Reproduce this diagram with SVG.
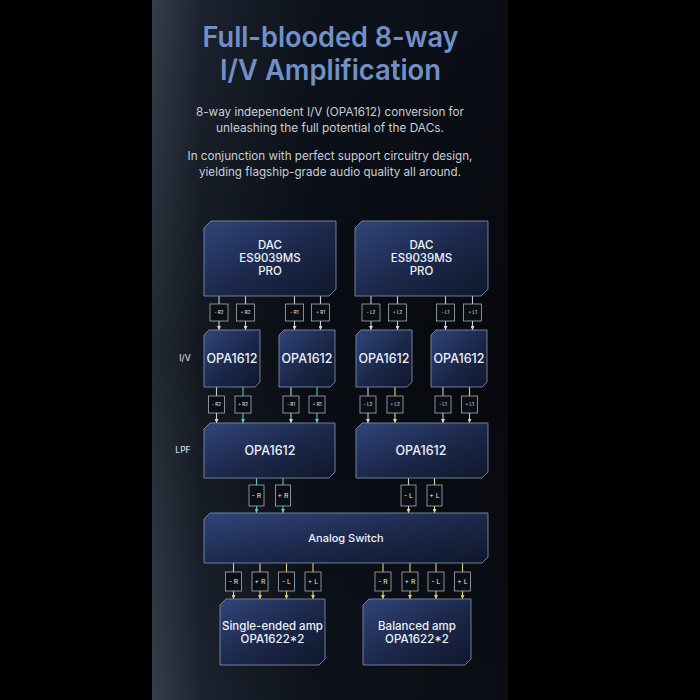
<svg xmlns="http://www.w3.org/2000/svg" width="700" height="700" viewBox="0 0 700 700">
<defs>
  <linearGradient id="panel" x1="0" y1="0" x2="1" y2="0">
    <stop offset="0" stop-color="#353e4c"/>
    <stop offset="0.14" stop-color="#1c232f"/>
    <stop offset="0.45" stop-color="#0d121b"/>
    <stop offset="1" stop-color="#0a0d14"/>
  </linearGradient>
  <linearGradient id="panelV" x1="0" y1="0" x2="0" y2="1">
    <stop offset="0" stop-color="#000" stop-opacity="0"/>
    <stop offset="0.5" stop-color="#000" stop-opacity="0.35"/>
    <stop offset="1" stop-color="#000" stop-opacity="0"/>
  </linearGradient>
  <linearGradient id="box" x1="0" y1="0" x2="1" y2="1">
    <stop offset="0" stop-color="#30457a"/>
    <stop offset="0.55" stop-color="#1b2749"/>
    <stop offset="1" stop-color="#10172b"/>
  </linearGradient>
  <marker id="aw" viewBox="0 0 6 6" refX="6" refY="3" markerWidth="4" markerHeight="4" orient="auto" markerUnits="userSpaceOnUse">
    <path d="M0,0 L6,3 L0,6 Z" fill="#d4dae2"/>
  </marker>
  <marker id="at" viewBox="0 0 6 6" refX="6" refY="3" markerWidth="4" markerHeight="4" orient="auto" markerUnits="userSpaceOnUse">
    <path d="M0,0 L6,3 L0,6 Z" fill="#5ec4cc"/>
  </marker>
  <marker id="ay" viewBox="0 0 6 6" refX="6" refY="3" markerWidth="4" markerHeight="4" orient="auto" markerUnits="userSpaceOnUse">
    <path d="M0,0 L6,3 L0,6 Z" fill="#e2cf6a"/>
  </marker>
  <marker id="ap" viewBox="0 0 6 6" refX="6" refY="3" markerWidth="4" markerHeight="4" orient="auto" markerUnits="userSpaceOnUse">
    <path d="M0,0 L6,3 L0,6 Z" fill="#d8dc98"/>
  </marker>
  <style>
    .title{font-family:Inter,"Open Sans",sans-serif;font-weight:600;font-size:28px;fill:#7190c8;text-anchor:middle}
    .sub{font-family:Inter,"Open Sans",sans-serif;font-weight:400;font-size:11.5px;fill:#c9ced6;text-anchor:middle}
    .node path{fill:url(#box);stroke:#7c8aa8;stroke-width:0.9}
    .nt{font-family:Inter,"Open Sans",sans-serif;font-weight:500;fill:#eef1f7;text-anchor:middle}
    .side{font-family:Inter,"Open Sans",sans-serif;font-weight:500;font-size:8.5px;fill:#d6dae2;text-anchor:middle}
    .lb rect{fill:#0b0e14;stroke:#a8aeb6;stroke-width:0.8}
    .lb text{font-family:Inter,"Open Sans",sans-serif;fill:#e4e8ee;text-anchor:middle}
    .s text{font-size:4.6px}
    .m text{font-size:6.8px}
    .w{stroke:#c4ccd6;stroke-width:1.1;fill:none}
    .t{stroke:#5ec4cc;stroke-width:1.1;fill:none}
    .y{stroke:#e2cf6a;stroke-width:1.1;fill:none}
    .p{stroke:#d8dc98;stroke-width:1.1;fill:none}
  </style>
</defs>

<rect x="0" y="0" width="700" height="700" fill="#000"/>
<rect x="152" y="0" width="356" height="700" fill="url(#panel)"/>
<rect x="152" y="0" width="356" height="700" fill="url(#panelV)"/>

<g id="title">
  <text class="title" x="330.5" y="47" textLength="256" lengthAdjust="spacingAndGlyphs">Full-blooded 8-way</text>
  <text class="title" x="330.5" y="80" textLength="221" lengthAdjust="spacingAndGlyphs">I/V Amplification</text>
  <text class="sub" x="330" y="115.5" textLength="268" lengthAdjust="spacingAndGlyphs">8-way independent I/V (OPA1612) conversion for</text>
  <text class="sub" x="330" y="131.5" textLength="228" lengthAdjust="spacingAndGlyphs">unleashing the full potential of the DACs.</text>
  <text class="sub" x="330" y="160" textLength="285" lengthAdjust="spacingAndGlyphs">In conjunction with perfect support circuitry design,</text>
  <text class="sub" x="330" y="176" textLength="262" lengthAdjust="spacingAndGlyphs">yielding flagship-grade audio quality all around.</text>
  <text class="side" x="185" y="361">I/V</text>
  <text class="side" x="183" y="453">LPF</text>
</g>

<g id="connectors">
  <!-- DAC -> I/V -->
  <g class="w">
    <line x1="219" y1="296" x2="219" y2="304"/><line x1="219" y1="321" x2="219" y2="330" marker-end="url(#aw)"/>
    <line x1="245.5" y1="296" x2="245.5" y2="304"/><line x1="245.5" y1="321" x2="245.5" y2="330" marker-end="url(#aw)"/>
    <line x1="294.5" y1="296" x2="294.5" y2="304"/><line x1="294.5" y1="321" x2="294.5" y2="330" marker-end="url(#aw)"/>
    <line x1="320.5" y1="296" x2="320.5" y2="304"/><line x1="320.5" y1="321" x2="320.5" y2="330" marker-end="url(#aw)"/>
    <line x1="371" y1="296" x2="371" y2="304"/><line x1="371" y1="321" x2="371" y2="330" marker-end="url(#aw)"/>
    <line x1="397.5" y1="296" x2="397.5" y2="304"/><line x1="397.5" y1="321" x2="397.5" y2="330" marker-end="url(#aw)"/>
    <line x1="445.5" y1="296" x2="445.5" y2="304"/><line x1="445.5" y1="321" x2="445.5" y2="330" marker-end="url(#aw)"/>
    <line x1="472.5" y1="296" x2="472.5" y2="304"/><line x1="472.5" y1="321" x2="472.5" y2="330" marker-end="url(#aw)"/>
  </g>
  <g class="lb s">
    <rect x="210" y="304" width="18" height="17"/><text x="219" y="314.3">- R2</text>
    <rect x="236.5" y="304" width="18" height="17"/><text x="245.5" y="314.3">+ R2</text>
    <rect x="285.5" y="304" width="18" height="17"/><text x="294.5" y="314.3">- R1</text>
    <rect x="311.5" y="304" width="18" height="17"/><text x="320.5" y="314.3">+ R1</text>
    <rect x="362" y="304" width="18" height="17"/><text x="371" y="314.3">- L2</text>
    <rect x="388.5" y="304" width="18" height="17"/><text x="397.5" y="314.3">+ L2</text>
    <rect x="436.5" y="304" width="18" height="17"/><text x="445.5" y="314.3">- L1</text>
    <rect x="463.5" y="304" width="18" height="17"/><text x="472.5" y="314.3">+ L1</text>
  </g>

  <!-- I/V -> LPF -->
  <line class="w" x1="216.5" y1="387" x2="216.5" y2="396"/><line class="w" x1="216.5" y1="413" x2="216.5" y2="423" marker-end="url(#aw)"/>
  <line class="t" x1="243" y1="387" x2="243" y2="396"/><line class="t" x1="243" y1="413" x2="243" y2="423" marker-end="url(#at)"/>
  <line class="w" x1="291" y1="387" x2="291" y2="396"/><line class="w" x1="291" y1="413" x2="291" y2="423" marker-end="url(#aw)"/>
  <line class="t" x1="317" y1="387" x2="317" y2="396"/><line class="t" x1="317" y1="413" x2="317" y2="423" marker-end="url(#at)"/>
  <line class="w" x1="368" y1="387" x2="368" y2="396"/><line class="w" x1="368" y1="413" x2="368" y2="423" marker-end="url(#aw)"/>
  <line class="p" x1="395" y1="387" x2="395" y2="396"/><line class="p" x1="395" y1="413" x2="395" y2="423" marker-end="url(#ap)"/>
  <line class="w" x1="443" y1="387" x2="443" y2="396"/><line class="w" x1="443" y1="413" x2="443" y2="423" marker-end="url(#aw)"/>
  <line class="y" x1="469.5" y1="387" x2="469.5" y2="396"/><line class="y" x1="469.5" y1="413" x2="469.5" y2="423" marker-end="url(#ay)"/>
  <g class="lb s">
    <rect x="208.5" y="396" width="16" height="17"/><text x="216.5" y="406.3">- R2</text>
    <rect x="235" y="396" width="16" height="17"/><text x="243" y="406.3">+ R2</text>
    <rect x="283" y="396" width="16" height="17"/><text x="291" y="406.3">- R1</text>
    <rect x="309" y="396" width="16" height="17"/><text x="317" y="406.3">+ R1</text>
    <rect x="360" y="396" width="16" height="17"/><text x="368" y="406.3">- L2</text>
    <rect x="387" y="396" width="16" height="17"/><text x="395" y="406.3">+ L2</text>
    <rect x="435" y="396" width="16" height="17"/><text x="443" y="406.3">- L1</text>
    <rect x="461.5" y="396" width="16" height="17"/><text x="469.5" y="406.3">+ L1</text>
  </g>

  <!-- LPF -> Analog Switch -->
  <line class="t" x1="256.5" y1="478" x2="256.5" y2="485"/><line class="t" x1="256.5" y1="506" x2="256.5" y2="513" marker-end="url(#at)"/>
  <line class="t" x1="283" y1="478" x2="283" y2="485"/><line class="t" x1="283" y1="506" x2="283" y2="513" marker-end="url(#at)"/>
  <line class="p" x1="408.5" y1="478" x2="408.5" y2="485"/><line class="p" x1="408.5" y1="506" x2="408.5" y2="513" marker-end="url(#ap)"/>
  <line class="p" x1="434.5" y1="478" x2="434.5" y2="485"/><line class="p" x1="434.5" y1="506" x2="434.5" y2="513" marker-end="url(#ap)"/>
  <g class="lb m">
    <rect x="249" y="485" width="15" height="21"/><text x="256.5" y="498">- R</text>
    <rect x="275.5" y="485" width="15" height="21"/><text x="283" y="498">+ R</text>
    <rect x="401" y="485" width="15" height="21"/><text x="408.5" y="498">- L</text>
    <rect x="427" y="485" width="15" height="21"/><text x="434.5" y="498">+ L</text>
  </g>

  <!-- Analog Switch -> amps -->
  <g class="y">
    <line x1="233.5" y1="563" x2="233.5" y2="572"/><line x1="233.5" y1="591" x2="233.5" y2="599" marker-end="url(#ay)"/>
    <line x1="260" y1="563" x2="260" y2="572"/><line x1="260" y1="591" x2="260" y2="599" marker-end="url(#ay)"/>
    <line x1="286.5" y1="563" x2="286.5" y2="572"/><line x1="286.5" y1="591" x2="286.5" y2="599" marker-end="url(#ay)"/>
    <line x1="313" y1="563" x2="313" y2="572"/><line x1="313" y1="591" x2="313" y2="599" marker-end="url(#ay)"/>
    <line x1="383" y1="563" x2="383" y2="572"/><line x1="383" y1="591" x2="383" y2="599" marker-end="url(#ay)"/>
    <line x1="410" y1="563" x2="410" y2="572"/><line x1="410" y1="591" x2="410" y2="599" marker-end="url(#ay)"/>
    <line x1="436" y1="563" x2="436" y2="572"/><line x1="436" y1="591" x2="436" y2="599" marker-end="url(#ay)"/>
    <line x1="462.5" y1="563" x2="462.5" y2="572"/><line x1="462.5" y1="591" x2="462.5" y2="599" marker-end="url(#ay)"/>
  </g>
  <g class="lb m">
    <rect x="225.5" y="572" width="16" height="19"/><text x="233.5" y="584">- R</text>
    <rect x="252" y="572" width="16" height="19"/><text x="260" y="584">+ R</text>
    <rect x="278.5" y="572" width="16" height="19"/><text x="286.5" y="584">- L</text>
    <rect x="305" y="572" width="16" height="19"/><text x="313" y="584">+ L</text>
    <rect x="375" y="572" width="16" height="19"/><text x="383" y="584">- R</text>
    <rect x="402" y="572" width="16" height="19"/><text x="410" y="584">+ R</text>
    <rect x="428" y="572" width="16" height="19"/><text x="436" y="584">- L</text>
    <rect x="454.5" y="572" width="16" height="19"/><text x="462.5" y="584">+ L</text>
  </g>
</g>

<g id="dac-left" class="node">
  <path d="M211,221 H336 V289 L329,296 H204 V228 Z"/>
  <text class="nt" x="270" y="249" font-size="11.5">DAC</text>
  <text class="nt" x="270" y="262" font-size="11.5">ES9039MS</text>
  <text class="nt" x="270" y="275" font-size="11.5">PRO</text>
</g>
<g id="dac-right" class="node">
  <path d="M362,221 H488 V289 L481,296 H355 V228 Z"/>
  <text class="nt" x="421.5" y="249" font-size="11.5">DAC</text>
  <text class="nt" x="421.5" y="262" font-size="11.5">ES9039MS</text>
  <text class="nt" x="421.5" y="275" font-size="11.5">PRO</text>
</g>
<g id="iv-r2" class="node">
  <path d="M209,330 H260 V382 L255,387 H204 V335 Z"/>
  <text class="nt" x="232" y="363" font-size="12.5">OPA1612</text>
</g>
<g id="iv-r1" class="node">
  <path d="M284,330 H335 V382 L330,387 H279 V335 Z"/>
  <text class="nt" x="307" y="363" font-size="12.5">OPA1612</text>
</g>
<g id="iv-l2" class="node">
  <path d="M361,330 H412 V382 L407,387 H356 V335 Z"/>
  <text class="nt" x="384" y="363" font-size="12.5">OPA1612</text>
</g>
<g id="iv-l1" class="node">
  <path d="M436,330 H487 V382 L482,387 H431 V335 Z"/>
  <text class="nt" x="459" y="363" font-size="12.5">OPA1612</text>
</g>
<g id="lpf-left" class="node">
  <path d="M210,423 H335 V472 L329,478 H204 V429 Z"/>
  <text class="nt" x="270" y="454.5" font-size="12.5">OPA1612</text>
</g>
<g id="lpf-right" class="node">
  <path d="M362,423 H488 V472 L482,478 H356 V429 Z"/>
  <text class="nt" x="421" y="454.5" font-size="12.5">OPA1612</text>
</g>
<g id="analog-switch" class="node">
  <path d="M210,513 H488 V557 L482,563 H204 V519 Z"/>
  <text class="nt" x="346" y="542" font-size="11">Analog Switch</text>
</g>
<g id="single-ended-amp" class="node">
  <path d="M226,599 H325 V659 L319,665 H220 V605 Z"/>
  <text class="nt" x="272.5" y="630" font-size="11.5">Single-ended amp</text>
  <text class="nt" x="272.5" y="643" font-size="11.5">OPA1622*2</text>
</g>
<g id="balanced-amp" class="node">
  <path d="M369,599 H471 V659 L465,665 H363 V605 Z"/>
  <text class="nt" x="417" y="630" font-size="11.5">Balanced amp</text>
  <text class="nt" x="417" y="643" font-size="11.5">OPA1622*2</text>
</g>
</svg>
